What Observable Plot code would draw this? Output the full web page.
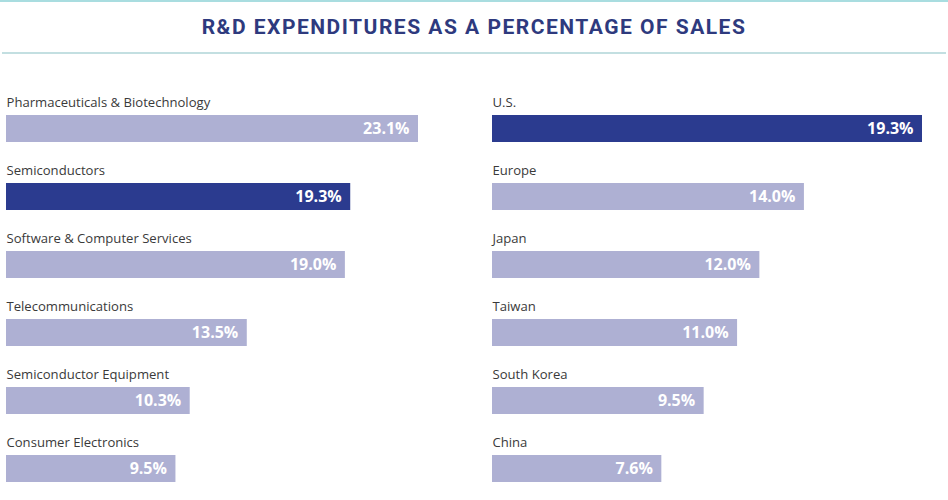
<!DOCTYPE html>
<html>
<head>
<meta charset="utf-8">
<script src="https://cdn.jsdelivr.net/npm/d3@7"></script>
<script src="https://cdn.jsdelivr.net/npm/@observablehq/plot@0.6"></script>
<style>
  html, body { margin: 0; padding: 0; background: #fff; }
  #page { width: 948px; height: 500px; position: relative; overflow: hidden; }
  #header { height: 60px; position: relative; }
  #topline { position: absolute; left: 0; top: 0; width: 948px; height: 2px; background: #a9dde0; }
  #title { position: absolute; left: 0; top: 15px; width: 948px; text-align: center;
           font-family: Roboto, sans-serif; font-weight: 700; font-size: 21px; color: #2e3a7e; letter-spacing: 1.5px; }
  #bottomline { position: absolute; left: 2px; top: 52px; width: 944px; height: 2px; background: #c3dfe1; }
  #panels { display: flex; }
</style>
</head>
<body>
<div id="page">
  <div id="header">
    <div id="topline"></div>
    <div id="title">R&amp;D EXPENDITURES AS A PERCENTAGE OF SALES</div>
    <div id="bottomline"></div>
  </div>
  <div id="panels"></div>
</div>
<script>
const industries = ["Pharmaceuticals & Biotechnology", "Semiconductors", "Software & Computer Services", "Telecommunications", "Semiconductor Equipment", "Consumer Electronics"];
const industryValues = [23.1, 19.3, 19.0, 13.5, 10.3, 9.5];
const regions = ["U.S.", "Europe", "Japan", "Taiwan", "South Korea", "China"];
const regionValues = [19.3, 14.0, 12.0, 11.0, 9.5, 7.6];
const highlighted = ["Semiconductors", "U.S."];

const darkBlue = "#2b3b8f";
const lightBlue = "#aeb0d3";

function panel(cats, vals, opts) {
  const data = cats.map((c, i) => ({name: c, value: vals[i], color: highlighted.includes(c) ? darkBlue : lightBlue}));
  return Plot.plot({
    width: opts.width,
    height: 440,
    marginTop: 55,
    marginBottom: 17.8,
    marginLeft: opts.marginLeft,
    marginRight: opts.marginRight,
    style: {fontFamily: "'Open Sans', sans-serif", background: "white", overflow: "visible"},
    x: {domain: [0, d3.max(vals)], axis: null},
    y: {domain: cats, axis: null, paddingInner: 0.6, paddingOuter: 0, align: 0},
    color: {type: "identity"},
    marks: [
      Plot.barX(data, {x: "value", y: "name", fill: "color"}),
      Plot.text(data, {x: 0, y: "name", text: "name", textAnchor: "start", dy: -26, fill: "#3a3a3a", fontSize: 13.1}),
      Plot.text(data, {x: "value", y: "name", text: d => d.value.toFixed(1) + "%", textAnchor: "end", dx: -9, fill: "white",
        fontWeight: 700, fontSize: 16, fontFamily: "'Open Sans', sans-serif"})
    ]
  });
}

const panels = document.getElementById("panels");
panels.appendChild(panel(industries, industryValues, {width: 474, marginLeft: 6, marginRight: 56}));
panels.appendChild(panel(regions, regionValues, {width: 474, marginLeft: 18, marginRight: 26}));
</script>
</body>
</html>
